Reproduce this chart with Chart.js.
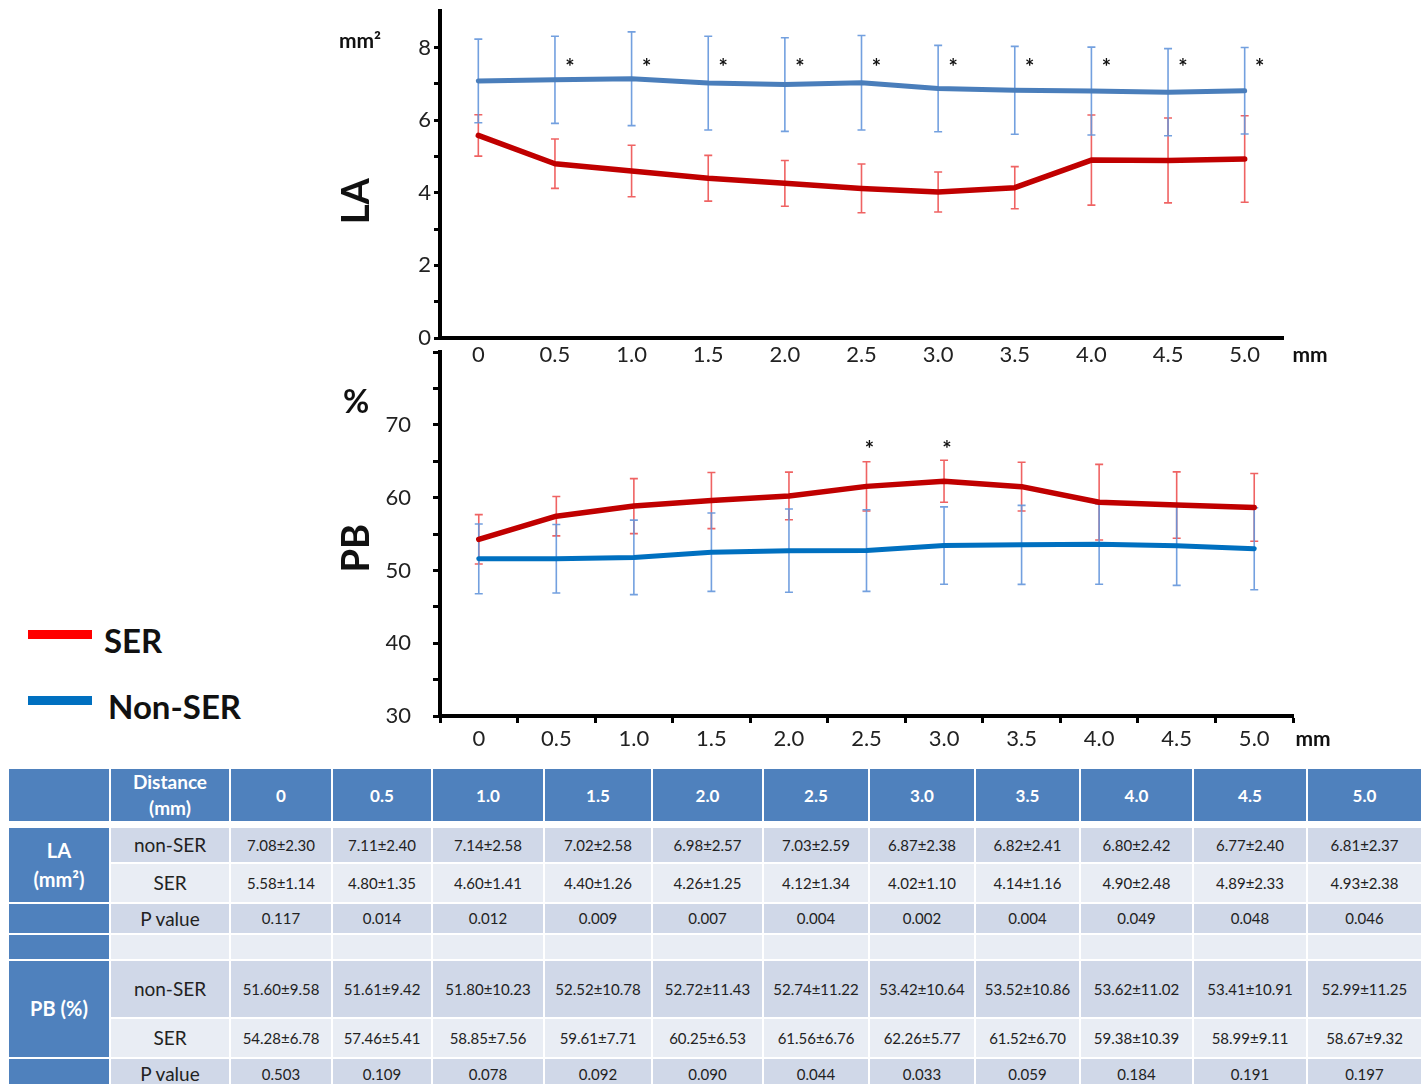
<!DOCTYPE html>
<html>
<head>
<meta charset="utf-8">
<script src="https://cdn.jsdelivr.net/npm/chart.js@4.4.0/dist/chart.umd.min.js"></script>
<style>
html, body { margin: 0; padding: 0; background: #fff; width: 1421px; height: 1084px; overflow: hidden; font-family: Lato, "Open Sans", sans-serif; }
#laBox { position: absolute; left: 300px; top: -5px; width: 1060px; height: 385px; }
#pbBox { position: absolute; left: 300px; top: 317px; width: 1060px; height: 443px; }
.key { position: absolute; left: 28px; width: 64px; height: 9px; }
.keyText { position: absolute; font-weight: bold; font-size: 33px; color: #111; line-height: 40px; }
#tbl { position: absolute; left: 7px; top: 767px; width: 1414px; border-collapse: collapse; table-layout: fixed; }
#tbl td, #tbl th { border: 2px solid #fff; padding: 0; text-align: center; vertical-align: middle; overflow: hidden; }
#tbl .hd th { background: #4F81BD; color: #fff; font-weight: bold; font-size: 17px; height: 50px; border-bottom: 7px solid #fff; }
#tbl .hd th.dist { font-size: 19px; line-height: 26px; }
#tbl th.side { background: #4F81BD; color: #fff; font-weight: bold; font-size: 20px; line-height: 29px; }
#tbl tr.dk td { background: #D0D8E8; }
#tbl tr.lt td { background: #E9EDF4; }
#tbl td { font-size: 15px; color: #222; }
#tbl td.lbl { font-size: 19px; }
</style>
</head>
<body>
<div id="laBox"><canvas id="laChart" width="1060" height="385"></canvas></div>
<div id="pbBox"><canvas id="pbChart" width="1060" height="443"></canvas></div>

<div class="key" style="top:630px;background:#FF0000;"></div>
<div class="keyText" style="left:104px;top:620px;">SER</div>
<div class="key" style="top:696px;background:#0070C0;"></div>
<div class="keyText" style="left:108px;top:686px;">Non-SER</div>

<table id="tbl"></table>

<script>
// distance from the lesion (mm)
var distances = ['0', '0.5', '1.0', '1.5', '2.0', '2.5', '3.0', '3.5', '4.0', '4.5', '5.0'];

// lumen area (mm2): mean, SD (table), error bar half-length (as drawn)
var laNonSer    = [7.08, 7.11, 7.14, 7.02, 6.98, 7.03, 6.87, 6.82, 6.80, 6.77, 6.81];
var laNonSerSd  = [2.30, 2.40, 2.58, 2.58, 2.57, 2.59, 2.38, 2.41, 2.42, 2.40, 2.37];
var laNonSerErr = [1.15, 1.20, 1.29, 1.29, 1.29, 1.30, 1.19, 1.21, 1.21, 1.20, 1.19];
var laSer       = [5.58, 4.80, 4.60, 4.40, 4.26, 4.12, 4.02, 4.14, 4.90, 4.89, 4.93];
var laSerSd     = [1.14, 1.35, 1.41, 1.26, 1.25, 1.34, 1.10, 1.16, 2.48, 2.33, 2.38];
var laSerErr    = [0.57, 0.68, 0.71, 0.63, 0.63, 0.67, 0.55, 0.58, 1.24, 1.17, 1.19];
var laP         = ['0.117', '0.014', '0.012', '0.009', '0.007', '0.004', '0.002', '0.004', '0.049', '0.048', '0.046'];
var laStars     = ['0.5', '1.0', '1.5', '2.0', '2.5', '3.0', '3.5', '4.0', '4.5', '5.0'];

// plaque burden (%)
var pbNonSer    = [51.60, 51.61, 51.80, 52.52, 52.72, 52.74, 53.42, 53.52, 53.62, 53.41, 52.99];
var pbNonSerSd  = [9.58, 9.42, 10.23, 10.78, 11.43, 11.22, 10.64, 10.86, 11.02, 10.91, 11.25];
var pbNonSerErr = [4.79, 4.71, 5.12, 5.39, 5.72, 5.61, 5.32, 5.43, 5.51, 5.46, 5.63];
var pbSer       = [54.28, 57.46, 58.85, 59.61, 60.25, 61.56, 62.26, 61.52, 59.38, 58.99, 58.67];
var pbSerSd     = [6.78, 5.41, 7.56, 7.71, 6.53, 6.76, 5.77, 6.70, 10.39, 9.11, 9.32];
var pbSerErr    = [3.39, 2.71, 3.78, 3.86, 3.27, 3.38, 2.89, 3.35, 5.20, 4.56, 4.66];
var pbP         = ['0.503', '0.109', '0.078', '0.092', '0.090', '0.044', '0.033', '0.059', '0.184', '0.191', '0.197'];
var pbStars     = ['2.5', '3.0'];

var tickFont = { family: 'Lato, "Open Sans", sans-serif', size: 22 };

// vertical error bars with small caps, drawn under the lines
var errorBars = {
	id: 'errorBars',
	beforeDatasetsDraw: function(chart) {
		var ctx = chart.ctx, y = chart.scales.y;
		chart.data.datasets.forEach(function(ds, i) {
			var meta = chart.getDatasetMeta(i);
			ctx.save();
			ctx.strokeStyle = ds.errColor;
			ctx.lineWidth = 1.6;
			meta.data.forEach(function(pt, j) {
				var hi = y.getPixelForValue(ds.data[j] + ds.errors[j]);
				var lo = y.getPixelForValue(ds.data[j] - ds.errors[j]);
				ctx.beginPath();
				ctx.moveTo(pt.x, hi); ctx.lineTo(pt.x, lo);
				ctx.moveTo(pt.x - 4, hi); ctx.lineTo(pt.x + 4, hi);
				ctx.moveTo(pt.x - 4, lo); ctx.lineTo(pt.x + 4, lo);
				ctx.stroke();
			});
			ctx.restore();
		});
	}
};

// significance stars and axis captions
var marks = {
	id: 'marks',
	afterDraw: function(chart, args, opts) {
		var ctx = chart.ctx, a = chart.chartArea;
		var x = chart.scales.x, y = chart.scales.y;
		ctx.save();
		ctx.fillStyle = '#111';
		ctx.textAlign = 'center';
		ctx.textBaseline = 'middle';
		ctx.font = 'bold 22px Lato, sans-serif';
		opts.stars.forEach(function(s) {
			ctx.fillText('*', x.getPixelForValue(distances.indexOf(s)) + opts.starDx, y.getPixelForValue(opts.starY));
		});
		opts.texts.forEach(function(t) {
			ctx.save();
			ctx.font = 'bold ' + t.size + 'px Lato, sans-serif';
			ctx.translate(a.left + t.dx, t.fromBottom ? a.bottom + t.dy : a.top + t.dy);
			if (t.rotate) ctx.rotate(-Math.PI / 2);
			ctx.fillText(t.text, 0, 0);
			ctx.restore();
		});
		ctx.restore();
	}
};

function yFit(scale) { scale.width = 140; }

new Chart(document.getElementById('laChart'), {
	type: 'line',
	data: {
		labels: distances,
		datasets: [
			{ label: 'SER', data: laSer, errors: laSerErr, errColor: 'rgba(236,72,72,0.85)', borderColor: '#C00000', borderWidth: 5.5, pointRadius: 0, borderJoinStyle: 'round', borderCapStyle: 'round' },
			{ label: 'Non-SER', data: laNonSer, errors: laNonSerErr, errColor: 'rgba(100,150,220,0.9)', borderColor: '#4A7EBB', borderWidth: 5, pointRadius: 0, borderJoinStyle: 'round', borderCapStyle: 'round' }
		]
	},
	options: {
		responsive: false,
		animation: false,
		layout: { padding: { top: 0, right: 77 } },
		plugins: {
			legend: { display: false },
			tooltip: { enabled: false },
			marks: {
				stars: laStars, starY: 7.45, starDx: 15,
				texts: [
					{ text: 'mm²', size: 21, dx: -80, dy: 30 },
					{ text: 'LA', size: 38, dx: -83, dy: 190, rotate: true },
					{ text: 'mm', size: 21, dx: 870, dy: 17, fromBottom: true }
				]
			}
		},
		scales: {
			x: {
				offset: true,
				grid: { display: false },
				border: { display: true, color: '#000', width: 4 },
				ticks: { color: '#222', font: tickFont, padding: -4, maxRotation: 0 },
				afterFit: function(scale) { scale.height = 42; }
			},
			y: {
				min: 0, max: 9,
				grid: { drawOnChartArea: false, drawTicks: true, tickLength: 6, tickWidth: 3, tickColor: '#000' },
				border: { display: true, color: '#000', width: 4 },
				ticks: {
					stepSize: 1, autoSkip: false, color: '#222', font: tickFont, padding: 3,
					callback: function(v) { if (v === 9) return null; return v % 2 === 0 ? v : ''; }
				},
				afterFit: yFit
			}
		}
	},
	plugins: [errorBars, marks]
});

new Chart(document.getElementById('pbChart'), {
	type: 'line',
	data: {
		labels: distances,
		datasets: [
			{ label: 'SER', data: pbSer, errors: pbSerErr, errColor: 'rgba(236,72,72,0.85)', borderColor: '#C00000', borderWidth: 5.5, pointRadius: 0, borderJoinStyle: 'round', borderCapStyle: 'round' },
			{ label: 'Non-SER', data: pbNonSer, errors: pbNonSerErr, errColor: 'rgba(100,150,220,0.9)', borderColor: '#0070C0', borderWidth: 5, pointRadius: 0, borderJoinStyle: 'round', borderCapStyle: 'round' }
		]
	},
	options: {
		responsive: false,
		animation: false,
		layout: { padding: { top: 12, right: 67 } },
		plugins: {
			legend: { display: false },
			tooltip: { enabled: false },
			marks: {
				stars: pbStars, starY: 66.6, starDx: 3,
				texts: [
					{ text: '%', size: 32, dx: -84, dy: 50 },
					{ text: 'PB', size: 38, dx: -83, dy: 196, rotate: true },
					{ text: 'mm', size: 21, dx: 873, dy: 23, fromBottom: true }
				]
			}
		},
		scales: {
			x: {
				offset: true,
				grid: { offset: true, drawOnChartArea: false, drawTicks: true, tickLength: 7, tickWidth: 3, tickColor: '#000' },
				border: { display: true, color: '#000', width: 4 },
				ticks: { color: '#222', font: tickFont, padding: 3, maxRotation: 0 },
				afterFit: function(scale) { scale.height = 44; }
			},
			y: {
				min: 30, max: 80,
				grid: { drawOnChartArea: false, drawTicks: true, tickLength: 7, tickWidth: 3, tickColor: '#000' },
				border: { display: true, color: '#000', width: 4 },
				ticks: {
					stepSize: 5, autoSkip: false, color: '#222', font: tickFont, padding: 22,
					callback: function(v) { return (v % 10 === 0 && v !== 80) ? v : ''; }
				},
				afterFit: yFit
			}
		}
	},
	plugins: [errorBars, marks]
});

// summary table
function meanSd(m, s) {
	return m.map(function(v, i) { return v.toFixed(2) + '±' + s[i].toFixed(2); });
}
function cells(vals) {
	return vals.map(function(v) { return '<td>' + v + '</td>'; }).join('');
}
var colW = [102, 120, 102, 100, 112, 108, 111, 106, 106, 105, 113, 114, 115];
var html = '<colgroup>' + colW.map(function(w) { return '<col style="width:' + w + 'px">'; }).join('') + '</colgroup>';
html += '<tr class="hd"><th></th><th class="dist">Distance<br>(mm)</th>' +
	distances.map(function(d) { return '<th>' + d + '</th>'; }).join('') + '</tr>';
html += '<tr class="dk" style="height:38px"><th class="side" rowspan="2">LA<br>(mm²)</th><td class="lbl">non-SER</td>' + cells(meanSd(laNonSer, laNonSerSd)) + '</tr>';
html += '<tr class="lt" style="height:40px"><td class="lbl">SER</td>' + cells(meanSd(laSer, laSerSd)) + '</tr>';
html += '<tr class="dk" style="height:31px"><th class="side"></th><td class="lbl">P value</td>' + cells(laP) + '</tr>';
html += '<tr class="lt" style="height:26px"><th class="side"></th><td></td>' + cells(distances.map(function() { return ''; })) + '</tr>';
html += '<tr class="dk" style="height:58px"><th class="side" rowspan="2">PB (%)</th><td class="lbl">non-SER</td>' + cells(meanSd(pbNonSer, pbNonSerSd)) + '</tr>';
html += '<tr class="lt" style="height:40px"><td class="lbl">SER</td>' + cells(meanSd(pbSer, pbSerSd)) + '</tr>';
html += '<tr class="dk" style="height:32px"><th class="side"></th><td class="lbl">P value</td>' + cells(pbP) + '</tr>';
document.getElementById('tbl').innerHTML = html;
</script>
</body>
</html>
